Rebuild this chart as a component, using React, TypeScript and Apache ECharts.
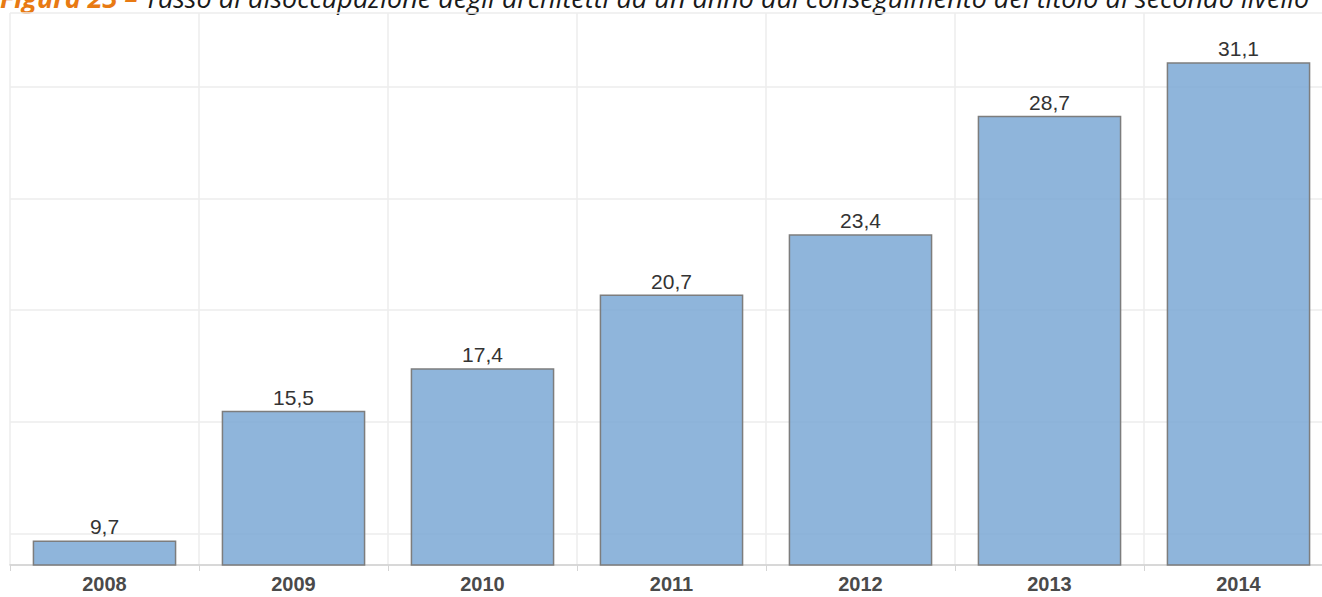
import React, { useEffect, useRef } from "react";
import * as echarts from "echarts";

const categories = ["2008", "2009", "2010", "2011", "2012", "2013", "2014"];
const values = [9.7, 15.5, 17.4, 20.7, 23.4, 28.7, 31.1];
const titlePrefix = "Figura 23 – ";
const titleText =
  "Tasso di disoccupazione degli architetti ad un anno dal conseguimento del titolo di secondo livello";

export default function App() {
  const ref = useRef<HTMLDivElement>(null);
  useEffect(() => {
    document.body.style.margin = "0";
    const chart = echarts.init(ref.current!, undefined, { renderer: "svg" });
    chart.setOption({
      animation: false,
      backgroundColor: "#ffffff",
      grid: { left: 10, top: 13, width: 1323, bottom: 32, containLabel: false },
      graphic: [
        {
          type: "text",
          x: 0,
          y: 11,
          silent: true,
          style: {
            text: `{a|${titlePrefix}}{b|${titleText}}`,
            verticalAlign: "bottom",
            rich: {
              a: {
                fontFamily: "Open Sans",
                fontStyle: "italic",
                fontWeight: "bold",
                fontSize: 27,
                fill: "#e87a13",
              },
              b: {
                fontFamily: "Open Sans",
                fontStyle: "italic",
                fontSize: 27,
                fill: "#1a1a1a",
              },
            },
          },
        },
      ],
      xAxis: {
        type: "category",
        data: categories,
        axisLine: { show: true, lineStyle: { color: "#cfcfcf", width: 1.5 } },
        axisTick: { show: true, length: 6, lineStyle: { color: "#d5d5d5" } },
        splitLine: { show: true, lineStyle: { color: "#ececec", width: 1.5 } },
        axisLabel: {
          color: "#4a4a4a",
          fontFamily: "Liberation Sans",
          fontWeight: "bold",
          fontSize: 20,
          margin: 9,
        },
      },
      yAxis: {
        type: "value",
        min: 8.6,
        max: 33.3,
        axisLine: { show: false },
        axisTick: { show: false },
        axisLabel: { show: false },
        splitLine: { show: true, lineStyle: { color: "#ececec", width: 1.5 } },
      },
      series: [
        {
          type: "bar",
          data: values,
          barCategoryGap: "24%",
          itemStyle: {
            color: "rgba(123,168,213,0.85)",
            borderColor: "#7d7d7d",
            borderWidth: 1.5,
          },
          label: {
            show: true,
            position: "top",
            distance: 3,
            color: "#333333",
            fontFamily: "Liberation Sans",
            fontSize: 21,
            formatter: (p: any) => String(p.value).replace(".", ","),
          },
        },
      ],
    });
    return () => chart.dispose();
  }, []);
  return (
    <div style={{ width: 1322, height: 597, overflow: "hidden", position: "relative" }}>
      <div ref={ref} style={{ width: 1340, height: 597 }} />
    </div>
  );
}
